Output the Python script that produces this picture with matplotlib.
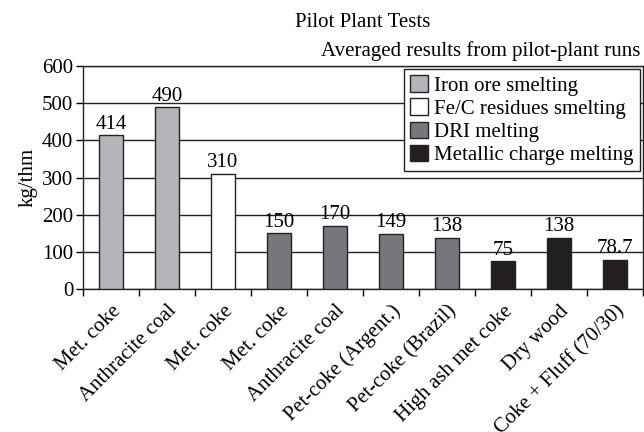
import numpy as np
import matplotlib.pyplot as plt
from matplotlib.patches import Patch

plt.rcParams['font.family'] = ['Liberation Serif', 'DejaVu Serif']

categories = ['Met. coke', 'Anthracite coal', 'Met. coke', 'Met. coke', 'Anthracite coal',
              'Pet-coke (Argent.)', 'Pet-coke (Brazil)', 'High ash met coke', 'Dry wood',
              'Coke + Fluff (70/30)']
values = [414, 490, 310, 150, 170, 149, 138, 75, 138, 78.7]
value_labels = ['414', '490', '310', '150', '170', '149', '138', '75', '138', '78.7']
groups = [0, 0, 1, 2, 2, 2, 2, 3, 3, 3]
group_names = ['Iron ore smelting', 'Fe/C residues smelting', 'DRI melting', 'Metallic charge melting']
group_colors = ['#b4b5ba', '#ffffff', '#76777c', '#231f20']

fs = 15

fig = plt.figure(figsize=(6.44, 4.32), dpi=100)
ax = fig.add_axes([0.129, 0.331, 0.869, 0.516])

x = np.arange(len(categories))
colors = [group_colors[g] for g in groups]
ax.set_axisbelow(True)
ax.bar(x, values, width=0.43, color=colors, edgecolor='#222222', linewidth=1.0, zorder=3)

# value labels on top of bars
for xi, v, lab in zip(x, values, value_labels):
    ax.annotate(lab, (xi, v), xytext=(0, 1), textcoords='offset points',
                ha='center', va='bottom', fontsize=fs)

ax.set_xlim(-0.5, len(categories) - 0.5)
ax.set_ylim(0, 600)
ax.set_yticks(np.arange(0, 601, 100))
ax.yaxis.grid(True, color='#222222', linewidth=1.0)
ax.tick_params(axis='y', direction='out', length=5, width=1, labelsize=fs, pad=2)

# ticks between categories, labels at category centres
ax.set_xticks(np.arange(-0.5, len(categories), 1.0))
ax.set_xticklabels([])
ax.tick_params(axis='x', which='major', direction='out', length=5, width=1)
ax.set_xticks(x, minor=True)
ax.set_xticklabels(categories, minor=True, rotation=45, ha='right', va='top',
                   rotation_mode='anchor', fontsize=fs)
ax.tick_params(axis='x', which='minor', length=0, pad=9)

for s in ax.spines.values():
    s.set_linewidth(1.0)
    s.set_color('#222222')

ax.set_ylabel('kg/thm', fontsize=fs, labelpad=3)

handles = [Patch(facecolor=c, edgecolor='#222222', linewidth=1.0) for c in group_colors]
leg = ax.legend(handles, group_names, loc='upper right', fontsize=fs, frameon=True,
                fancybox=False, edgecolor='#222222', framealpha=1,
                handlelength=0.85, handleheight=0.85, handletextpad=0.3,
                borderpad=0.3, labelspacing=0.12, borderaxespad=0.15)
leg.get_frame().set_linewidth(1.0)

fig.text(0.563, 0.948, 'Pilot Plant Tests', ha='center', va='center', fontsize=fs)
fig.text(0.995, 0.882, 'Averaged results from pilot-plant runs', ha='right', va='center', fontsize=fs)

fig.savefig('out.png', dpi=100)
